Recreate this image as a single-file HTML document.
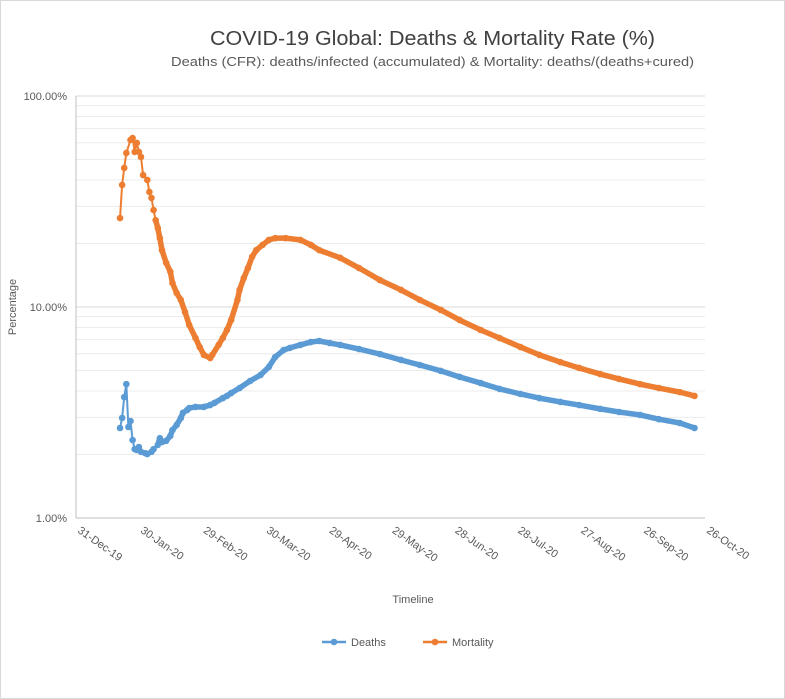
<!DOCTYPE html>
<html><head><meta charset="utf-8"><style>
body{margin:0;background:#fff;}
svg{display:block;font-family:"Liberation Sans",sans-serif;}
</style></head><body>
<svg width="785" height="699" id="chart">
<rect x="0.5" y="0.5" width="784" height="698" fill="#fff" stroke="#d9d9d9"/>
<text x="210" y="45" font-size="20" fill="#404040" textLength="445" lengthAdjust="spacingAndGlyphs">COVID-19 Global: Deaths &amp; Mortality Rate (%)</text>
<text x="171" y="66" font-size="13" fill="#595959" textLength="523" lengthAdjust="spacingAndGlyphs">Deaths (CFR): deaths/infected (accumulated) &amp; Mortality: deaths/(deaths+cured)</text>
<text transform="translate(16,307) rotate(-90)" text-anchor="middle" font-size="11" fill="#595959">Percentage</text>
<text x="413" y="603" text-anchor="middle" font-size="11" fill="#595959">Timeline</text>
<g id="grid"></g><g id="axes"></g><g id="series"></g>
<g>
<g><line x1="322" y1="642" x2="346" y2="642" stroke="#5b9bd5" stroke-width="2.5"/><circle cx="334" cy="642" r="3.3" fill="#5b9bd5"/><text x="351" y="646" font-size="11" fill="#595959">Deaths</text></g>
<g><line x1="423" y1="642" x2="447" y2="642" stroke="#ed7d31" stroke-width="2.5"/><circle cx="435" cy="642" r="3.3" fill="#ed7d31"/><text x="452" y="646" font-size="11" fill="#595959">Mortality</text></g>
</g>
</svg>
<script>
const xTickLabels=["31-Dec-19","30-Jan-20","29-Feb-20","30-Mar-20","29-Apr-20","29-May-20","28-Jun-20","28-Jul-20","27-Aug-20","26-Sep-20","26-Oct-20"];
const yTickLabels=["1.00%","10.00%","100.00%"];
const deathDays=[21,22,23,24,25,26,27,28,29,30,31,33,34,36,37,39,40,41,43,45,46,48,50,51,53,54,57,61,64,66,70,72,74,78,83,88,92,95,99,102,107,112,116,121,126,135,145,155,164,174,183,193,202,212,221,231,240,250,259,269,278,288,295];
const deathVals=[2.67,2.98,3.74,4.31,2.70,2.88,2.34,2.12,2.10,2.17,2.06,2.03,2.01,2.06,2.12,2.22,2.39,2.29,2.32,2.45,2.61,2.76,2.98,3.15,3.25,3.32,3.36,3.36,3.43,3.51,3.70,3.79,3.91,4.13,4.46,4.76,5.20,5.79,6.25,6.40,6.61,6.82,6.90,6.75,6.61,6.32,5.98,5.61,5.31,4.98,4.66,4.36,4.09,3.87,3.70,3.55,3.43,3.29,3.18,3.08,2.94,2.82,2.67];
const mortDays=[21,22,23,24,26,27,28,29,30,31,32,34,35,36,37,38,39,40,41,43,45,46,48,50,52,54,57,59,61,64,65,68,70,72,74,77,78,80,82,84,86,89,92,95,100,107,112,116,126,135,145,155,164,174,183,193,202,212,221,231,240,250,259,269,278,288,295];
const mortVals=[26.4,37.9,45.6,53.7,61.9,63.2,54.3,59.9,54.3,51.4,42.2,40.0,35.1,32.9,28.8,25.8,23.7,21.2,18.6,16.2,14.7,13.0,11.65,10.8,9.47,8.22,7.13,6.46,5.93,5.73,5.93,6.61,7.13,7.78,8.67,10.8,12.05,13.7,15.3,17.3,18.6,19.7,20.8,21.2,21.2,20.8,19.7,18.6,17.1,15.3,13.4,12.05,10.8,9.68,8.67,7.78,7.13,6.46,5.93,5.48,5.14,4.81,4.56,4.31,4.13,3.95,3.79];
const NS="http://www.w3.org/2000/svg";
const X0=76,X1=705,DAYS=300,Y100=96,Y1=518;
function xs(d){return X0+(X1-X0)*d/DAYS;}
function ys(v){return Y1-(Y1-Y100)*Math.log10(v)/2;}
function mk(t,a,p){const e=document.createElementNS(NS,t);for(const k in a)e.setAttribute(k,a[k]);p.appendChild(e);return e;}
const grid=document.getElementById('grid'),axes=document.getElementById('axes'),ser=document.getElementById('series');
for(let dec=0;dec<2;dec++){for(let m=2;m<=9;m++){const y=ys(m*Math.pow(10,dec));
const g=mk('line',{x1:X0,x2:X1,y1:y,y2:y,stroke:'#ececec','stroke-width':1},grid);

}}
yTickLabels.forEach((l,i)=>{const y=ys(Math.pow(10,i));
const g=mk('line',{x1:X0,x2:X1,y1:y,y2:y,stroke:i==0?'#bfbfbf':'#d9d9d9','stroke-width':1},grid);


const t=mk('text',{x:67,y:y+4,'text-anchor':'end','font-size':11,fill:'#595959'},axes);t.textContent=l;

});
const ya=mk('line',{x1:X0,x2:X0,y1:Y100,y2:Y1,stroke:'#bfbfbf'},axes);


xTickLabels.forEach((l,i)=>{const x=xs(i*30);
const t=mk('text',{transform:`translate(${x+1},${Y1+14}) rotate(35)`,'font-size':11,fill:'#595959'},axes);t.textContent=l;

});
function series(days,vals,col,name){
const pts=days.map((d,i)=>xs(d)+','+ys(vals[i])).join(' ');
const pl=mk('polyline',{points:pts,fill:'none',stroke:col,'stroke-width':2,'stroke-linejoin':'round'},ser);


const band=days.map((d,i)=>d>=38?xs(d)+','+ys(vals[i]):null).filter(p=>p).join(' ');
const pl2=mk('polyline',{points:band,fill:'none',stroke:col,'stroke-width':5.5,'stroke-linejoin':'round','stroke-linecap':'round'},ser);


days.forEach((d,i)=>{const c=mk('circle',{cx:xs(d),cy:ys(vals[i]),r:3.3,fill:col},ser);

});}
series(deathDays,deathVals,'#5b9bd5','deaths');
series(mortDays,mortVals,'#ed7d31','mortality');
</script>
</body></html>
